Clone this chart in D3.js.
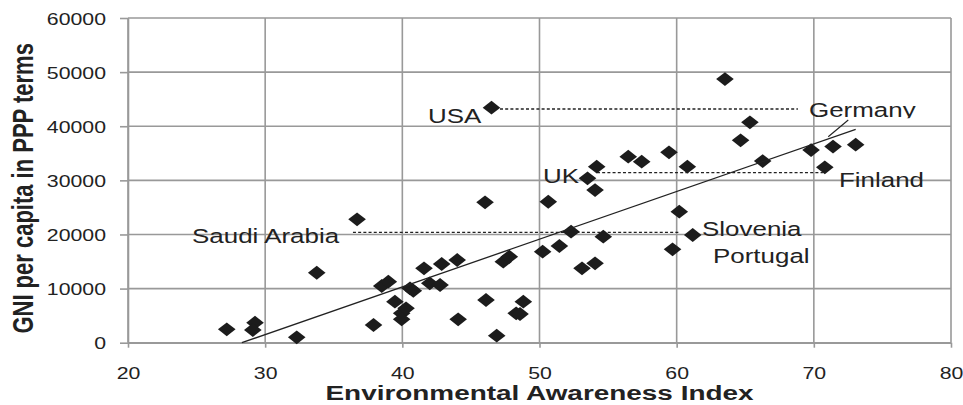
<!DOCTYPE html>
<html>
<head>
<meta charset="utf-8">
<script src="https://cdn.jsdelivr.net/npm/d3@7"></script>
<style>
  html, body { margin: 0; padding: 0; background: #fff; overflow: hidden; }
  svg { display: block; }
  text { font-family: "Liberation Sans", Arial, sans-serif; fill: #222; }
</style>
</head>
<body>
<svg id="chart" width="963" height="405"></svg>
<script>
// ---- data ----
const awareness = [27.2, 29.26, 29.1, 32.3, 33.76, 36.7, 37.9, 38.5, 38.98, 39.46,
  39.95, 39.95, 40.27, 40.56, 40.8, 41.58, 42.0, 42.75, 42.87, 44.0,
  44.07, 46.03, 46.1, 46.5, 46.88, 47.36, 47.8, 48.3, 48.58, 48.82,
  50.23, 50.64, 51.45, 52.3, 53.1, 53.5, 54.05, 54.05, 54.17, 54.65,
  56.47, 57.45, 59.44, 59.7, 60.19, 60.78, 61.17, 63.52, 64.66, 65.34,
  66.27, 69.8, 70.8, 71.4, 73.05];
const gni = [2480, 3700, 2350, 1000, 12930, 22800, 3270, 10480, 11270, 7580,
  5430, 4320, 6350, 10050, 9600, 13750, 10970, 10660, 14540, 15280,
  4320, 25940, 7890, 43430, 1300, 14970, 15900, 5430, 5300, 7580,
  16820, 26050, 17870, 20510, 13750, 30370, 14670, 28210, 32520, 19590,
  34370, 33450, 35180, 17250, 24210, 32520, 19900, 48720, 37400, 40720,
  33570, 35600, 32400, 36250, 36600];

const xTicks = [20, 30, 40, 50, 60, 70, 80];
const yTicks = [0, 10000, 20000, 30000, 40000, 50000, 60000];

const trendX = [28.3, 73.05];
const trendY = [0, 39430];

const labelNames = ["USA", "Germany", "UK", "Finland", "Saudi Arabia", "Slovenia", "Portugal"];
const labelX = [41.87, 69.65, 50.25, 71.83, 24.67, 61.85, 62.65];
const labelY = [40650, 41650, 29450, 28830, 18370, 19720, 14780];

const dashX1 = [47.12, 54.19, 36.4];
const dashX2 = [68.84, 70.66, 60.24];
const dashY = [43180, 31410, 20400];

const leaderX = [72.51, 71.05];
const leaderY = [41150, 38060];

const xTitle = "Environmental Awareness Index";
const yTitle = "GNI per capita in PPP terms";

// ---- drawing ----
const SX = 1.33; // horizontal stretch of text glyphs
const svg = d3.select("#chart");
const x = d3.scaleLinear().domain([20, 80]).range([128, 951]);
const y = d3.scaleLinear().domain([0, 60000]).range([342.7, 18]);

// gridlines
const grid = svg.append("g");
grid.selectAll("line.gx").data(xTicks).join("line")
  .attr("x1", d => x(d)).attr("x2", d => x(d))
  .attr("y1", y(60000)).attr("y2", y(0))
  .attr("stroke", "#999").attr("stroke-width", 1.6);
grid.selectAll("line.gy").data(yTicks).join("line")
  .attr("x1", x(20)).attr("x2", x(80))
  .attr("y1", d => y(d)).attr("y2", d => y(d))
  .attr("stroke", "#999").attr("stroke-width", 1.6);

// axes
const xAxis = svg.append("g").attr("transform", `translate(0,${y(0)})`)
  .call(d3.axisBottom(x).tickValues(xTicks).tickSize(5).tickSizeOuter(0).tickPadding(20).tickFormat(d3.format("d")));
const yAxis = svg.append("g").attr("transform", `translate(${x(20)},0)`)
  .call(d3.axisLeft(y).tickValues(yTicks).tickSize(8).tickSizeOuter(0).tickPadding(14).tickFormat(d3.format("d")));
[xAxis, yAxis].forEach(a => {
  a.select(".domain").attr("stroke", "#999").attr("stroke-width", 1.6);
  a.selectAll(".tick line").attr("stroke", "#999").attr("stroke-width", 1.6);
  a.selectAll(".tick text").attr("fill", "#2a2a2a").style("font-size", "16px")
    .style("font-family", "'Liberation Sans', Arial, sans-serif");
});
xAxis.selectAll(".tick text").each(function() {
  const t = d3.select(this);
  const yy = +t.attr("y");
  t.attr("y", 0).attr("transform", `translate(0,${yy}) scale(${SX},1)`);
});
yAxis.selectAll(".tick text").each(function() {
  const t = d3.select(this);
  const xx = +t.attr("x");
  t.attr("x", 0).attr("transform", `translate(${xx},1) scale(${SX},1)`);
});

// dashed leader lines
svg.append("g").selectAll("line").data(dashY).join("line")
  .attr("x1", (d, i) => x(dashX1[i])).attr("x2", (d, i) => x(dashX2[i]))
  .attr("y1", d => y(d)).attr("y2", d => y(d))
  .attr("stroke", "#222").attr("stroke-width", 1.3).attr("stroke-dasharray", "3,2.2");

// Germany solid leader
svg.append("line")
  .attr("x1", x(leaderX[0])).attr("y1", y(leaderY[0]))
  .attr("x2", x(leaderX[1])).attr("y2", y(leaderY[1]))
  .attr("stroke", "#222").attr("stroke-width", 1.1);

// markers
const diamond = "M0,-6.9L8.8,0L0,6.9L-8.8,0Z";
svg.append("g").selectAll("path").data(awareness).join("path")
  .attr("d", diamond)
  .attr("transform", (d, i) => `translate(${x(d)},${y(gni[i])})`)
  .attr("fill", "#1c1c1c");

// trend line
svg.append("line")
  .attr("x1", x(trendX[0])).attr("y1", y(trendY[0]))
  .attr("x2", x(trendX[1])).attr("y2", y(trendY[1]))
  .attr("stroke", "#222").attr("stroke-width", 1.3);

// labels (each in a clipped text box)
const defs = svg.append("defs");
labelNames.forEach((name, i) => {
  const lx = x(labelX[i]), ly = y(labelY[i]);
  const clipId = "clip" + i;
  defs.append("clipPath").attr("id", clipId).append("rect")
    .attr("x", lx - 4).attr("y", ly - 22).attr("width", 160)
    .attr("height", name === "Germany" ? 23 : 30);
  const g = svg.append("g").attr("clip-path", `url(#${clipId})`);
  g.append("text")
    .attr("transform", `translate(${lx},${ly}) scale(${SX},1)`)
    .style("font-size", "19.5px")
    .text(name);
});

// axis titles
svg.append("text")
  .attr("transform", `translate(${(x(20) + x(80)) / 2},400) scale(${SX},1)`)
  .attr("text-anchor", "middle")
  .style("font-size", "21px").style("font-weight", "bold")
  .text(xTitle);
svg.append("text")
  .attr("transform", `translate(33,${(y(0) + y(60000)) / 2 + 8}) scale(${SX},1) rotate(-90)`)
  .attr("text-anchor", "middle")
  .style("font-size", "22px").style("font-weight", "bold")
  .text(yTitle);
</script>
</body>
</html>
